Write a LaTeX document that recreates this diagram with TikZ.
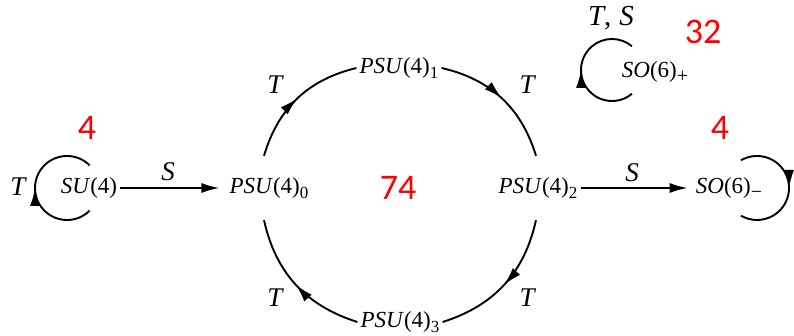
\documentclass[tikz,border=0pt]{standalone}
\usepackage{fontspec}
\setmainfont{Liberation Serif}
\newfontfamily\redfont{Carlito}
\usetikzlibrary{arrows.meta,decorations.markings,calc}
\newcommand\lowidx[1]{\raisebox{-0.2em}{\fontsize{17}{17}\selectfont #1}}
\newcommand\lowsign[1]{\raisebox{-0.2em}{\fontsize{20}{20}\selectfont #1}}
\begin{document}
\begin{tikzpicture}[x=1pt,y=1pt,
  every node/.style={inner sep=0pt, font=\fontsize{23}{23}\selectfont},
  grp/.style={inner sep=3pt},
  psu/.style={inner sep=3pt, minimum height=64pt},
  lbl/.style={font=\fontsize{27}{27}\selectfont\itshape},
  biglbl/.style={font=\fontsize{29}{29}\selectfont\itshape},
  num/.style={text=red, font=\redfont\fontsize{36}{36}\selectfont},
  conn/.style={line width=1.9pt, -{Latex[length=18pt,width=10pt]}},
  midarrow/.style={line width=1.9pt, decoration={markings, mark=at position 0.5 with {\arrow{Latex[length=18pt,width=10pt]}}}, postaction={decorate}},
]
\useasboundingbox (0,0) rectangle (794,336);

% nodes
\node[grp] (su4) at (89,148) {\textit{SU}(4)};
\node[psu] (p0) at (269,148) {\textit{PSU}(4)\lowidx{0}};
\node[psu] (p1) at (399,268) {\textit{PSU}(4)\lowidx{1}};
\node[psu] (p2) at (538,148) {\textit{PSU}(4)\lowidx{2}};
\node[psu] (p3) at (400,14) {\textit{PSU}(4)\lowidx{3}};
\node[grp] (som) at (729,148) {\textit{SO}(6)\lowsign{−}};
\node[grp] (sop) at (655,264) {\textit{SO}(6)\lowsign{+}};

% red counts
\node[num] (n1) at (87,208) {4};
\node[num] (n2) at (398,148) {74};
\node[num] (n3) at (720,208) {4};
\node[num] (n4) at (703,304) {32};

% labels
\node[lbl] (tl) at (18,149) {T};
\node[lbl] (s1) at (168,164) {S};
\node[lbl] (s2) at (632,163) {S};
\node[lbl] (t1) at (275,251) {T};
\node[lbl] (t2) at (527,251) {T};
\node[lbl] (t3) at (275,38) {T};
\node[lbl] (t4) at (527,38) {T};
\node[biglbl] (ts) at (611,318) {T\upshape,\;\itshape S};

% straight arrows
\draw[conn, shorten >=7pt] (su4.east) -- (p0.west);
\draw[conn, shorten >=5pt] (p2.east) -- (som.west);

% cycle
\draw[midarrow] ([xshift=-5pt]p0.north) to[bend left=30] (p1.west);
\draw[midarrow] (p1.east) to[bend left=30] ([xshift=-2pt]p2.north);
\draw[midarrow] ([xshift=-2pt]p2.south) to[bend left=30] (p3.east);
\draw[midarrow] (p3.west) to[bend left=30] ([xshift=-5pt]p0.south);

% loops
\draw[midarrow] ($(su4.center)+(-22,0)+(315:32)$) arc[start angle=315, end angle=45, radius=32];
\draw[midarrow] ($(som.center)+(28,0)+(120:32)$) arc[start angle=120, end angle=-120, radius=32];
\draw[midarrow] ($(sop.center)+(-43,2)+(310:31)$) arc[start angle=310, end angle=50, radius=31];
\end{tikzpicture}
\end{document}
